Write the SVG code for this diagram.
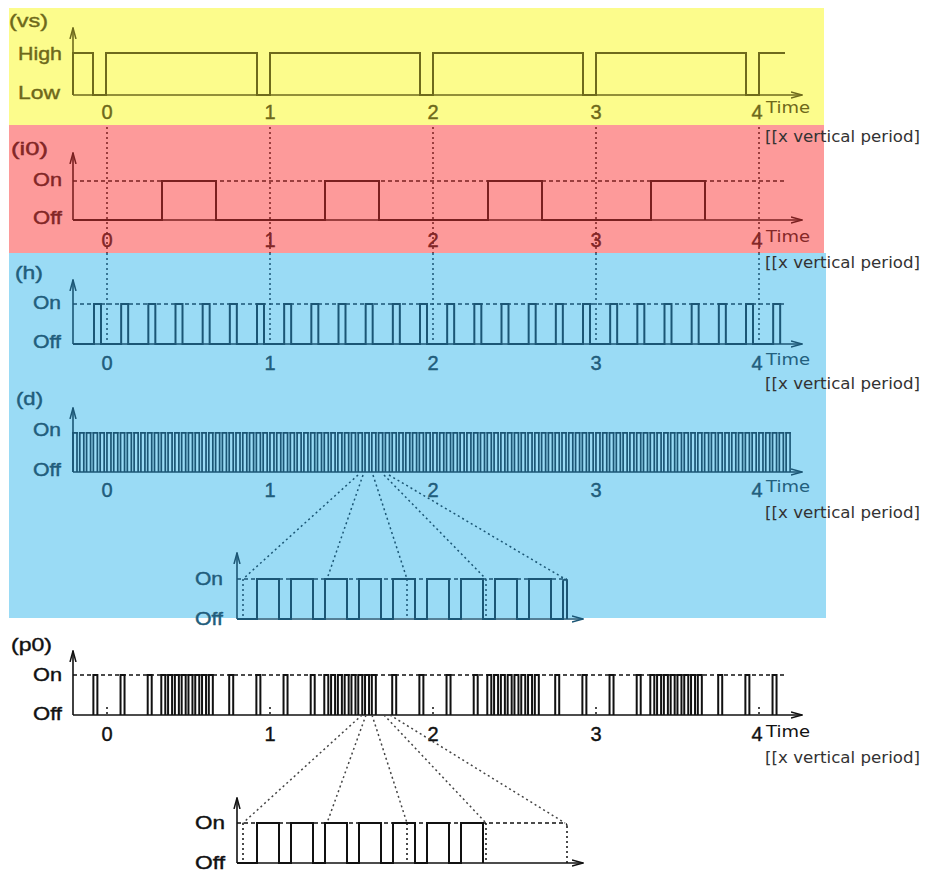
<svg xmlns="http://www.w3.org/2000/svg" width="926" height="875" viewBox="0 0 926 875">
<defs>
<style>
.lbl{font-family:"Liberation Sans",Arial,sans-serif;font-size:19px;stroke-width:0.4}
.num{font-family:"Liberation Sans",Arial,sans-serif;font-size:20px;text-anchor:middle;stroke-width:0.4}
.tm{font-family:"DejaVu Sans",Verdana,sans-serif;font-size:15px}
.per{font-family:"DejaVu Sans",Verdana,sans-serif;font-size:15px;fill:#333}
.ax{fill:none;stroke-width:1.6}
.wv{fill:none;stroke-width:2;stroke-linejoin:miter}
.dot{fill:none;stroke-width:1.5;stroke-dasharray:2 3}
.dash{fill:none;stroke-width:1.3;stroke-dasharray:4 3}
.y{fill:#6e681a}.ys{stroke:#6e6a1c}
.r{fill:#852828}.rs{stroke:#7a2020}
.b{fill:#22607e}.bs{stroke:#1b5675}
.k{fill:#111}.ks{stroke:#111}
</style>
<marker id="aY" viewBox="0 0 12 8" refX="11" refY="4" markerWidth="12" markerHeight="8" markerUnits="userSpaceOnUse" orient="auto"><path d="M0,1 L11,4 L0,7" fill="none" stroke="#6e6a1c" stroke-width="1.5"/></marker>
<marker id="aR" viewBox="0 0 12 8" refX="11" refY="4" markerWidth="12" markerHeight="8" markerUnits="userSpaceOnUse" orient="auto"><path d="M0,1 L11,4 L0,7" fill="none" stroke="#7a2020" stroke-width="1.5"/></marker>
<marker id="aB" viewBox="0 0 12 8" refX="11" refY="4" markerWidth="12" markerHeight="8" markerUnits="userSpaceOnUse" orient="auto"><path d="M0,1 L11,4 L0,7" fill="none" stroke="#1b5675" stroke-width="1.5"/></marker>
<marker id="aK" viewBox="0 0 12 8" refX="11" refY="4" markerWidth="12" markerHeight="8" markerUnits="userSpaceOnUse" orient="auto"><path d="M0,1 L11,4 L0,7" fill="none" stroke="#111" stroke-width="1.5"/></marker>
</defs>
<rect width="926" height="875" fill="#ffffff"/>
<g id="backgrounds">
<rect x="9" y="8" width="815" height="117" fill="#fcfc8c"/>
<rect x="9" y="125" width="815" height="128" fill="#fd9a9a"/>
<rect x="9" y="253" width="817" height="365" fill="#9adbf5"/>
</g>

<g id="panel-vs">
<text class="lbl y ys" x="9" y="27" textLength="39" lengthAdjust="spacingAndGlyphs">(vs)</text>
<text class="lbl y ys" x="18" y="60" textLength="44" lengthAdjust="spacingAndGlyphs">High</text>
<text class="lbl y ys" x="18" y="99" textLength="42" lengthAdjust="spacingAndGlyphs">Low</text>
<path class="ax ys" d="M73,95 V28" marker-end="url(#aY)"/>
<path class="ax ys" d="M73,95 H802" marker-end="url(#aY)"/>
<path class="wv ys" d="M73,95 V53 H93 V95 H106 V53 H257 V95 H270 V53 H420 V95 H433 V53 H583 V95 H596 V53 H746 V95 H759 V53 H785"/>
<text class="num y ys" x="107" y="119">0</text>
<text class="num y ys" x="270" y="119">1</text>
<text class="num y ys" x="433" y="119">2</text>
<text class="num y ys" x="596" y="119">3</text>
<text class="num y ys" x="757" y="119">4</text>
<text class="tm y" x="766" y="113" textLength="44" lengthAdjust="spacingAndGlyphs">Time</text>
<text class="per" x="765" y="142" textLength="155" lengthAdjust="spacingAndGlyphs">[[x vertical period]</text>
</g>

<g id="panel-i0">
<path class="dot rs" d="M107,127 V253 M270,127 V253 M433,127 V253 M596,127 V253 M759,127 V253"/>
<path class="dash rs" d="M73,181 H787"/>
<text class="lbl r rs" x="11" y="155" textLength="37" lengthAdjust="spacingAndGlyphs">(i0)</text>
<text class="lbl r rs" x="33" y="186" textLength="29" lengthAdjust="spacingAndGlyphs">On</text>
<text class="lbl r rs" x="33" y="224" textLength="29" lengthAdjust="spacingAndGlyphs">Off</text>
<path class="ax rs" d="M73,220 V153" marker-end="url(#aR)"/>
<path class="ax rs" d="M73,220 H802" marker-end="url(#aR)"/>
<path class="wv rs" d="M73,220 H162 V181 H216 V220 H325 V181 H379 V220 H488 V181 H542 V220 H651 V181 H705 V220"/>
<text class="num r rs" x="107" y="247">0</text>
<text class="num r rs" x="270" y="247">1</text>
<text class="num r rs" x="433" y="247">2</text>
<text class="num r rs" x="596" y="247">3</text>
<text class="num r rs" x="757" y="247">4</text>
<text class="tm r" x="766" y="242" textLength="44" lengthAdjust="spacingAndGlyphs">Time</text>
<text class="per" x="765" y="268" textLength="155" lengthAdjust="spacingAndGlyphs">[[x vertical period]</text>
</g>

<g id="panel-h">
<path class="dot bs" d="M107,253 V344 M270,253 V344 M433,253 V344 M596,253 V344 M759,253 V344"/>
<path class="dash bs" d="M73,304 H787"/>
<text class="lbl b bs" x="15" y="279" textLength="28" lengthAdjust="spacingAndGlyphs">(h)</text>
<text class="lbl b bs" x="33" y="309" textLength="28" lengthAdjust="spacingAndGlyphs">On</text>
<text class="lbl b bs" x="33" y="348" textLength="28" lengthAdjust="spacingAndGlyphs">Off</text>
<path class="ax bs" d="M73,344 V280" marker-end="url(#aB)"/>
<path class="ax bs" d="M73,344 H802" marker-end="url(#aB)"/>
<path class="wv bs" d="M73,344 H94 v-40h7v40h20.1667 v-40h7v40h20.1667 v-40h7v40h20.1667 v-40h7v40h20.1667 v-40h7v40h20.1667 v-40h7v40h20.1667 v-40h7v40h20.1667 v-40h7v40h20.1667 v-40h7v40h20.1667 v-40h7v40h20.1667 v-40h7v40h20.1667 v-40h7v40h20.1667 v-40h7v40h20.1667 v-40h7v40h20.1667 v-40h7v40h20.1667 v-40h7v40h20.1667 v-40h7v40h20.1667 v-40h7v40h20.1667 v-40h7v40h20.1667 v-40h7v40h20.1667 v-40h7v40h20.1667 v-40h7v40h20.1667 v-40h7v40h20.1667 v-40h7v40h20.1667 v-40h7v40h20.1667 v-40h7v40"/>
<text class="num b bs" x="107" y="370">0</text>
<text class="num b bs" x="270" y="370">1</text>
<text class="num b bs" x="433" y="370">2</text>
<text class="num b bs" x="596" y="370">3</text>
<text class="num b bs" x="757" y="370">4</text>
<text class="tm b" x="766" y="365" textLength="44" lengthAdjust="spacingAndGlyphs">Time</text>
<text class="per" x="765" y="389" textLength="155" lengthAdjust="spacingAndGlyphs">[[x vertical period]</text>
</g>

<g id="panel-d">
<text class="lbl b bs" x="16" y="405" textLength="27" lengthAdjust="spacingAndGlyphs">(d)</text>
<text class="lbl b bs" x="33" y="436" textLength="28" lengthAdjust="spacingAndGlyphs">On</text>
<text class="lbl b bs" x="33" y="476" textLength="28" lengthAdjust="spacingAndGlyphs">Off</text>
<path class="ax bs" d="M73,472 V408" marker-end="url(#aB)"/>
<path class="ax bs" d="M73,472 H802" marker-end="url(#aB)"/>
<path fill="none" stroke="#1b5675" stroke-width="40" stroke-dasharray="1.7 2.3 1.7 1.0917" d="M72.15,452 H790.9"/>
<path fill="none" stroke="#1b5675" stroke-width="1.7" stroke-dasharray="5.7 1.0917" d="M72.15,432.85 H790.9"/>
<text class="num b bs" x="107" y="497">0</text>
<text class="num b bs" x="270" y="497">1</text>
<text class="num b bs" x="433" y="497">2</text>
<text class="num b bs" x="596" y="497">3</text>
<text class="num b bs" x="757" y="497">4</text>
<text class="tm b" x="766" y="492" textLength="44" lengthAdjust="spacingAndGlyphs">Time</text>
<text class="per" x="765" y="518" textLength="155" lengthAdjust="spacingAndGlyphs">[[x vertical period]</text>
</g>

<g id="inset-d">
<text class="lbl b bs" x="195" y="585" textLength="28" lengthAdjust="spacingAndGlyphs">On</text>
<text class="lbl b bs" x="195" y="625" textLength="28" lengthAdjust="spacingAndGlyphs">Off</text>
<path class="dash bs" d="M237,579 H567"/>
<path class="dot bs" d="M243,579 V619 M407,579 V619 M486,579 V619 M567,579 V619"/>
<path class="ax bs" d="M237,619 V553" marker-end="url(#aB)"/>
<path class="ax bs" d="M237,619 H583" marker-end="url(#aB)"/>
<path class="wv bs" d="M237,619 H257 V579 H279 V619 H291 V579 H313 V619 H325 V579 H347 V619 H359 V579 H381 V619 H393 V579 H415 V619 H427 V579 H449 V619 H461 V579 H483 V619 H495 V579 H517 V619 H529 V579 H551 V619 H563 V581 Q565,578 567,581 V619"/>
</g>

<g id="panel-p0">
<path class="dash ks" d="M73,675 H787"/>
<path class="dot ks" d="M107,707 V715 M270,707 V715 M433,707 V715 M596,707 V715 M759,707 V715"/>
<text class="lbl k ks" x="11" y="651" textLength="41" lengthAdjust="spacingAndGlyphs">(p0)</text>
<text class="lbl k ks" x="33" y="681" textLength="29" lengthAdjust="spacingAndGlyphs">On</text>
<text class="lbl k ks" x="33" y="720" textLength="29" lengthAdjust="spacingAndGlyphs">Off</text>
<path class="ax ks" d="M73,715 V651" marker-end="url(#aK)"/>
<path class="ax ks" d="M73,715 H802" marker-end="url(#aK)"/>
<path class="wv ks" d="M93.38,715V675h4V715 M120.54,715V675h4V715 M147.71,715V675h4V715 M161.29,715V675h4V715 M168.08,715V675h4V715 M174.88,715V675h4V715 M181.67,715V675h4V715 M188.46,715V675h4V715 M195.25,715V675h4V715 M202.04,715V675h4V715 M208.83,715V675h4V715 M229.21,715V675h4V715 M256.38,715V675h4V715 M283.54,715V675h4V715 M310.71,715V675h4V715 M324.29,715V675h4V715 M331.08,715V675h4V715 M337.88,715V675h4V715 M344.67,715V675h4V715 M351.46,715V675h4V715 M358.25,715V675h4V715 M365.04,715V675h4V715 M371.83,715V675h4V715 M392.21,715V675h4V715 M419.38,715V675h4V715 M446.54,715V675h4V715 M473.71,715V675h4V715 M487.29,715V675h4V715 M494.08,715V675h4V715 M500.88,715V675h4V715 M507.67,715V675h4V715 M514.46,715V675h4V715 M521.25,715V675h4V715 M528.04,715V675h4V715 M534.83,715V675h4V715 M555.21,715V675h4V715 M582.38,715V675h4V715 M609.54,715V675h4V715 M636.71,715V675h4V715 M650.29,715V675h4V715 M657.08,715V675h4V715 M663.88,715V675h4V715 M670.67,715V675h4V715 M677.46,715V675h4V715 M684.25,715V675h4V715 M691.04,715V675h4V715 M697.83,715V675h4V715 M718.21,715V675h4V715 M745.38,715V675h4V715 M772.54,715V675h4V715"/>
<text class="num k ks" x="107" y="741">0</text>
<text class="num k ks" x="270" y="741">1</text>
<text class="num k ks" x="433" y="741">2</text>
<text class="num k ks" x="596" y="741">3</text>
<text class="num k ks" x="757" y="741">4</text>
<text class="tm k" x="766" y="737" textLength="44" lengthAdjust="spacingAndGlyphs">Time</text>
<text class="per" x="765" y="763" textLength="155" lengthAdjust="spacingAndGlyphs">[[x vertical period]</text>
</g>

<g id="inset-p0">
<text class="lbl k ks" x="195" y="829" textLength="30" lengthAdjust="spacingAndGlyphs">On</text>
<text class="lbl k ks" x="195" y="869" textLength="30" lengthAdjust="spacingAndGlyphs">Off</text>
<path class="dash ks" d="M237,823 H564 Q567,823 567,826"/>
<path class="dot ks" d="M243,823 V863 M407,823 V863 M486,823 V863 M567,826 V863"/>
<path class="ax ks" d="M237,863 V798" marker-end="url(#aK)"/>
<path class="ax ks" d="M237,863 H583" marker-end="url(#aK)"/>
<path class="wv ks" d="M237,863 H257 V823 H279 V863 H291 V823 H313 V863 H325 V823 H347 V863 H359 V823 H381 V863 H393 V823 H415 V863 H427 V823 H449 V863 H461 V823 H483 V863"/>
</g>

<g id="connectors">
<path class="dot bs" stroke-dasharray="3 3" d="M358,475 L243,579 M363,475 L327,579 M373,475 L407,579 M384,475 L486,579 M389,475 L565,579"/>
<path class="dot" stroke="#444" stroke-dasharray="3 3" d="M362,715 L243,823 M366,715 L327,823 M372,715 L407,823 M384,715 L486,823 M390,715 L565,823"/>
</g>
</svg>
